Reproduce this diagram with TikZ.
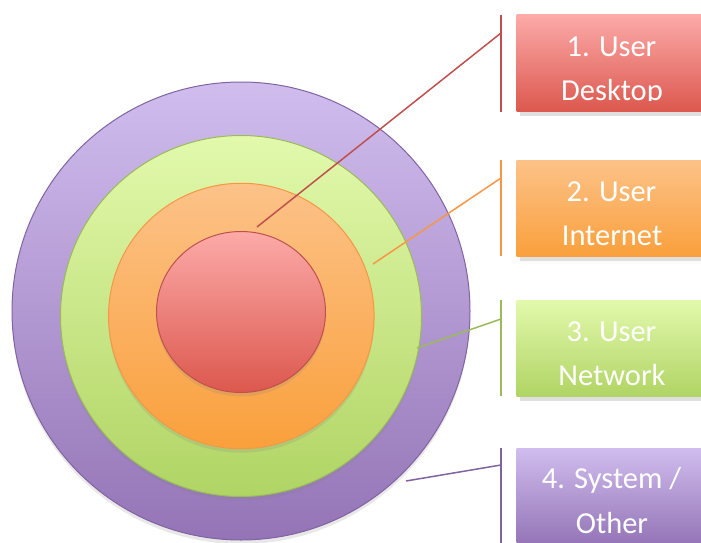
\documentclass[tikz,border=0pt]{standalone}
\usepackage{fontspec}
\setmainfont{Carlito}
\usetikzlibrary{shapes.geometric,shadows}
\definecolor{redE}{RGB}{192,80,77}
\definecolor{redT}{RGB}{252,170,168}
\definecolor{redB}{RGB}{220,88,78}
\definecolor{oraE}{RGB}{247,150,70}
\definecolor{oraT}{RGB}{252,194,136}
\definecolor{oraB}{RGB}{250,160,60}
\definecolor{grnE}{RGB}{155,187,89}
\definecolor{grnT}{RGB}{226,249,172}
\definecolor{grnB}{RGB}{176,212,100}
\definecolor{purE}{RGB}{128,100,162}
\definecolor{purT}{RGB}{208,189,238}
\definecolor{purB}{RGB}{148,116,182}
\tikzset{
  ring/.style={circle, inner sep=0pt, line width=1pt,
    drop shadow={opacity=0.18, shadow xshift=0pt, shadow yshift=-4pt}},
  lab/.style={rectangle, inner sep=0pt, minimum width=189.3pt, minimum height=96.7pt,
    drop shadow={opacity=0.25, shadow xshift=3pt, shadow yshift=-4pt}},
  labtxt/.style={anchor=base, text=white, inner sep=0pt,
    font=\fontsize{30.5}{36}\selectfont},
  conn/.style={line width=1.5pt},
}
\begin{document}
\begin{tikzpicture}[x=1pt,y=-1pt]
\useasboundingbox (0,0) rectangle (701,543);
\clip (0,0) rectangle (701,543);
% rings
\node[ring, minimum size=458pt, draw=purE, top color=purT, bottom color=purB] (c4) at (241,311) {};
\node[ring, minimum size=361pt, draw=grnE, top color=grnT, bottom color=grnB] (c3) at (241,316) {};
\node[ring, minimum size=265.5pt, draw=oraE, top color=oraT, bottom color=oraB] (c2) at (241.3,316) {};
\node[ring, ellipse, minimum width=169pt, minimum height=161pt, draw=redE, top color=redT, bottom color=redB] (c1) at (241,312) {};
% boxes
\node[lab, top color=redT, bottom color=redB] (b1) at (611.35,63.35) {};
\node[lab, top color=oraT, bottom color=oraB] (b2) at (611.35,208.35) {};
\node[lab, top color=grnT, bottom color=grnB] (b3) at (611.35,348.35) {};
\node[lab, top color=purT, bottom color=purB] (b4) at (611.35,496.35) {};
% texts (clipped to text frames)
\begin{scope}
\clip (516,15) rectangle (706,100.5);
\node[labtxt] (t1a) at (611.5,56.7) {1. User};
\node[labtxt] (t1b) at (612,100.5) {Desktop};
\end{scope}
\node[labtxt] (t2a) at (611.5,201.7) {2. User};
\node[labtxt] (t2b) at (612,245.2) {Internet};
\node[labtxt] (t3a) at (611.5,341.7) {3. User};
\node[labtxt] (t3b) at (612,385.2) {Network};
\begin{scope}
\clip (516,448) rectangle (706,533);
\node[labtxt] (t4a) at (611.5,488.7) {4. System /};
\node[labtxt] (t4b) at (612,533) {Other};
\end{scope}
% bars
\coordinate (v1t) at (501,15);  \coordinate (v1b) at (501,112);
\coordinate (v2t) at (501,160); \coordinate (v2b) at (501,256);
\coordinate (v3t) at (501,300); \coordinate (v3b) at (501,396);
\coordinate (v4t) at (501,448); \coordinate (v4b) at (501,545);
\draw[conn, redE] (v1t) -- (v1b);
\draw[conn, oraE] (v2t) -- (v2b);
\draw[conn, grnE] (v3t) -- (v3b);
\draw[conn, purE] (v4t) -- (v4b);
% connectors
\coordinate (p1) at (257,227); \coordinate (q1) at (501,33);
\coordinate (p2) at (373,264); \coordinate (q2) at (501,178);
\coordinate (p3) at (417,348); \coordinate (q3) at (501,319);
\coordinate (p4) at (406,481); \coordinate (q4) at (501,465);
\draw[conn, redE] (p1) -- (q1);
\draw[conn, oraE] (p2) -- (q2);
\draw[conn, grnE] (p3) -- (q3);
\draw[conn, purE] (p4) -- (q4);
\end{tikzpicture}
\end{document}
